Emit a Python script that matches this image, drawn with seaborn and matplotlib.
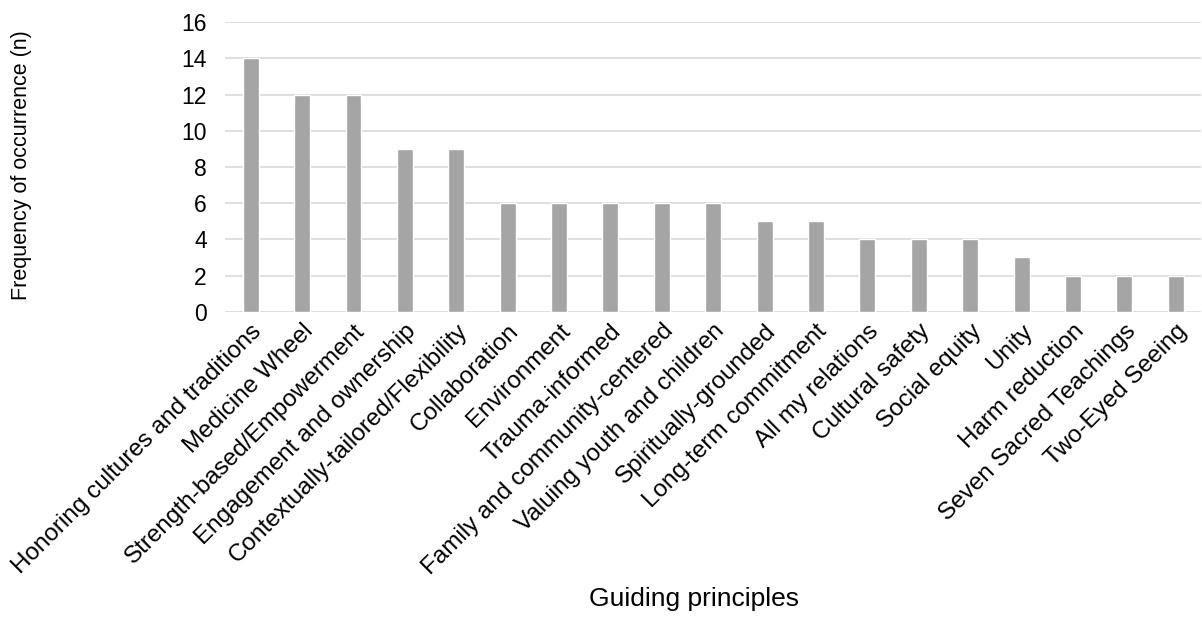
import matplotlib
matplotlib.use("Agg")
import matplotlib.pyplot as plt
import seaborn as sns
import pandas as pd

principles = [
    "Honoring cultures and traditions", "Medicine Wheel", "Strength-based/Empowerment",
    "Engagement and ownership", "Contextually-tailored/Flexibility", "Collaboration",
    "Environment", "Trauma-informed", "Family and community-centered",
    "Valuing youth and children", "Spiritually-grounded", "Long-term commitment",
    "All my relations", "Cultural safety", "Social equity", "Unity",
    "Harm reduction", "Seven Sacred Teachings", "Two-Eyed Seeing",
]
counts = [14, 12, 12, 9, 9, 6, 6, 6, 6, 6, 5, 5, 4, 4, 4, 3, 2, 2, 2]
y_ticks = [0, 2, 4, 6, 8, 10, 12, 14, 16]

sns.set_theme(style="white")
plt.rcParams["font.family"] = ["Liberation Sans", "DejaVu Sans"]
plt.rcParams["text.color"] = "#000000"

df = pd.DataFrame({"principle": principles, "n": counts})

fig = plt.figure(figsize=(12.02, 6.17), dpi=100)
ax = fig.add_axes([0.1872, 0.4948, 0.8123, 0.4691])

sns.barplot(data=df, x="principle", y="n", color="#a5a5a5", width=0.31,
            saturation=1, ax=ax, zorder=3)

ax.set_ylim(0, 16)
ax.set_xlim(-0.5, len(principles) - 0.5)
ax.set_yticks(y_ticks)
ax.set_yticklabels([str(t) for t in y_ticks], fontsize=16.5, color="#000000")
ax.yaxis.grid(True, color="#d9d9d9", linewidth=1.2, zorder=0)
ax.set_axisbelow(True)
ax.tick_params(axis="y", length=0, pad=13)
ax.tick_params(axis="x", length=0, pad=6)
for s in ax.spines.values():
    s.set_visible(False)

ax.set_xticks(range(len(principles)))
ax.set_xticklabels(principles, rotation=45, ha="right", va="top",
                   rotation_mode="anchor", fontsize=17.5, color="#000000")

ax.set_xlabel("")
ax.set_ylabel("")
fig.text(0.577, 0.029, "Guiding principles", ha="center", va="center",
         fontsize=19, color="#000000")
fig.text(0.0175, 0.733, "Frequency of occurrence (n)", rotation=90,
         ha="center", va="center", fontsize=15.5, color="#000000")

fig.savefig("out.png", dpi=100)
